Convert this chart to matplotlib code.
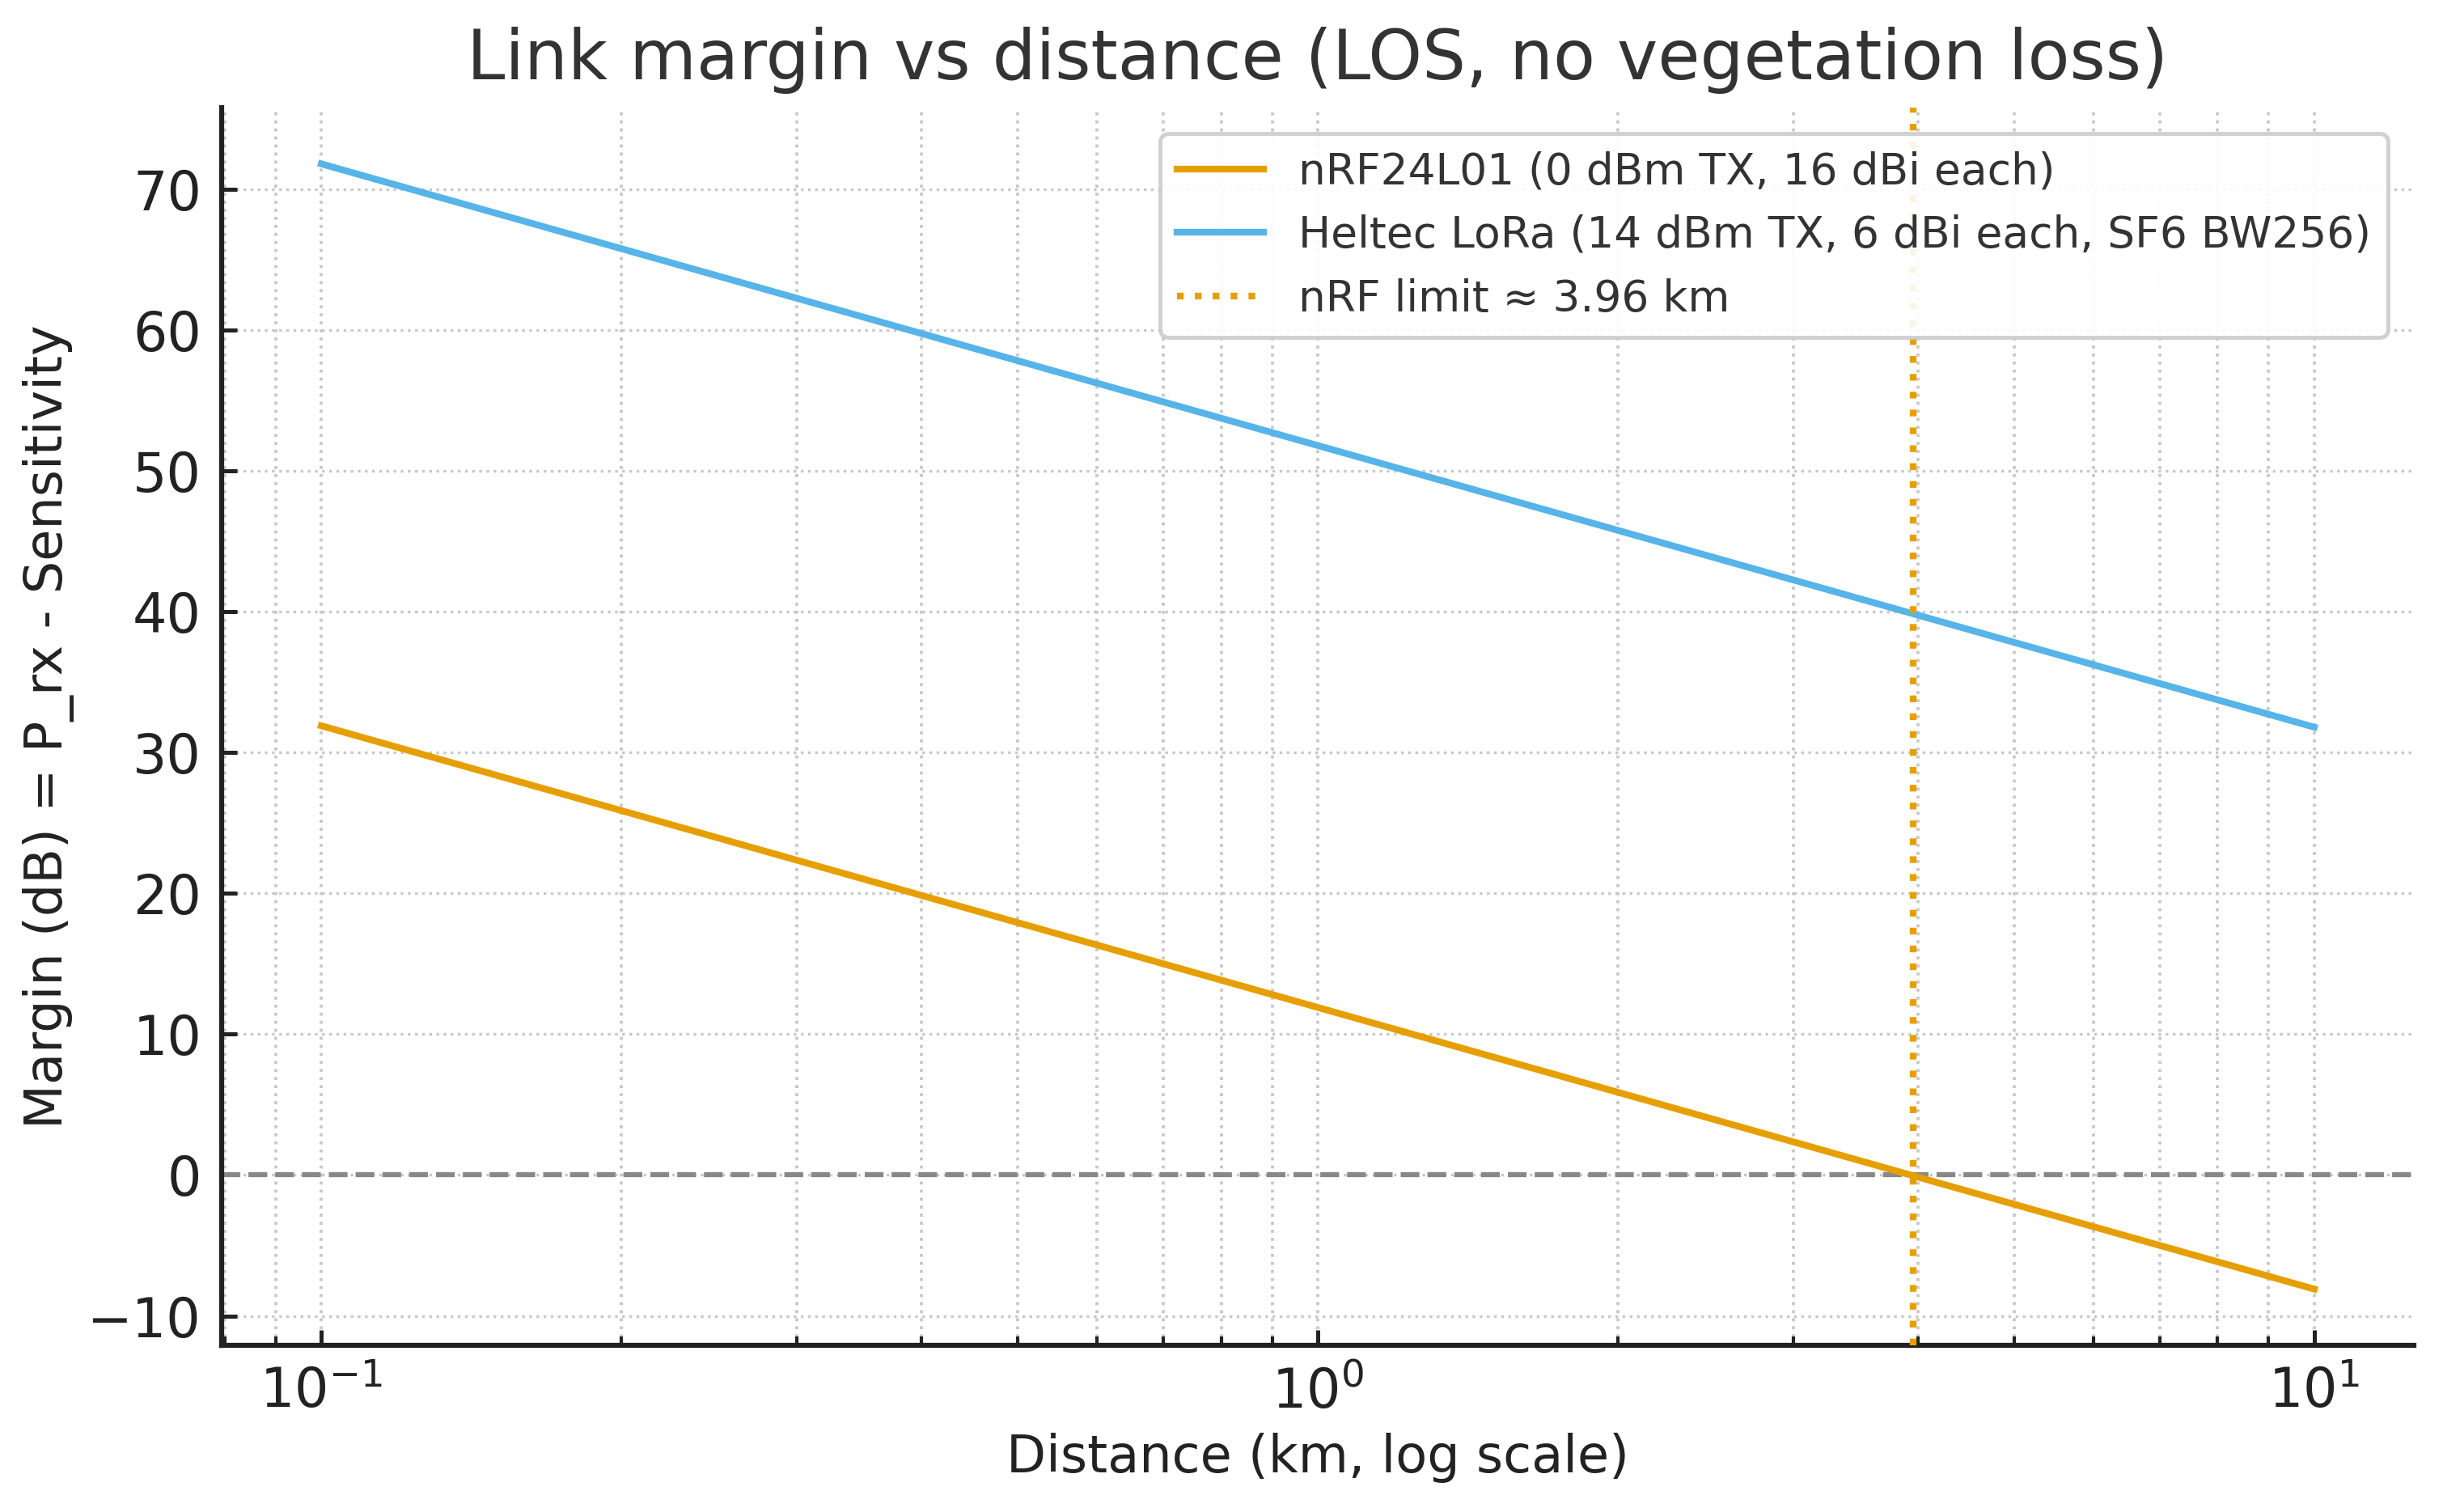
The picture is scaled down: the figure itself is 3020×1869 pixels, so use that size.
import matplotlib
matplotlib.use("Agg")
import matplotlib.pyplot as plt

# ---- data ----
distance_km = [0.1, 10.0]
nrf_margin_db = [31.9, -8.1]
lora_margin_db = [71.8, 31.8]
nrf_limit_km = 3.96

series_labels = [
    "nRF24L01 (0 dBm TX, 16 dBi each)",
    "Heltec LoRa (14 dBm TX, 6 dBi each, SF6 BW256)",
    "nRF limit \u2248 3.96 km",
]
title = "Link margin vs distance (LOS, no vegetation loss)"
xlabel = "Distance (km, log scale)"
ylabel = "Margin (dB) = P_rx - Sensitivity"

ORANGE = "#E69F00"
BLUE = "#56B4E9"

plt.rcParams["font.family"] = ["DejaVu Sans"]

fig = plt.figure(figsize=(3020 / 300, 1869 / 300), dpi=300)
ax = fig.add_axes([274 / 3020, 1 - 1663 / 1869, (2984 - 274) / 3020, (1663 - 133) / 1869])

ax.plot(distance_km, nrf_margin_db, color=ORANGE, lw=2.0, label=series_labels[0], zorder=3)
ax.plot(distance_km, lora_margin_db, color=BLUE, lw=2.0, label=series_labels[1], zorder=3)
ax.axhline(0, color="#888888", lw=1.5, ls="--", zorder=2)
ax.axvline(nrf_limit_km, color=ORANGE, lw=2.0, ls=":", label=series_labels[2], zorder=3)

ax.set_xscale("log")

ax.set_title(title, fontsize=20.4, color="#333333", pad=8.5)
ax.set_xlabel(xlabel, fontsize=15.3, color="#222222")
ax.set_ylabel(ylabel, fontsize=15.3, color="#222222")

ax.grid(True, which="major", axis="y", ls=":", lw=0.8, color="#c8c8c8")
ax.grid(True, which="both", axis="x", ls=":", lw=0.9, color="#c8c8c8")
ax.set_axisbelow(True)

for s in ["top", "right"]:
    ax.spines[s].set_visible(False)
for s in ["left", "bottom"]:
    ax.spines[s].set_linewidth(1.5)
    ax.spines[s].set_color("#222222")

ax.tick_params(axis="both", which="major", direction="in", length=4.5, width=1.2,
               labelsize=16, colors="#222222", pad=6)
ax.tick_params(axis="x", which="minor", direction="in", length=2.7, width=1.0, colors="#222222")

leg = ax.legend(loc="upper right", fontsize=12.8, frameon=True, fancybox=True,
                framealpha=0.9, edgecolor="#cccccc", borderaxespad=0.6)
leg.get_frame().set_linewidth(1.2)
for t in leg.get_texts():
    t.set_color("#333333")

fig.savefig("out.png", dpi=300)
